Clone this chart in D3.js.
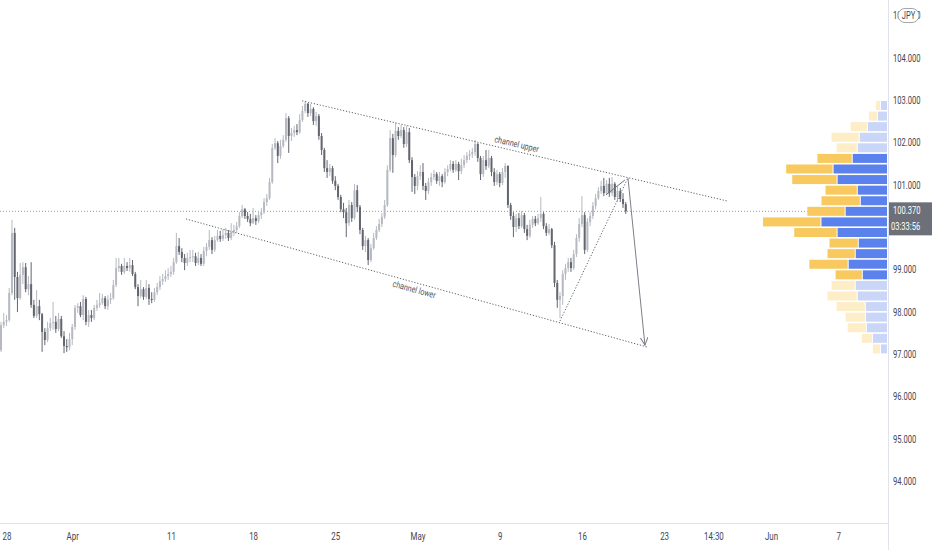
<!DOCTYPE html>
<html>
<head>
<meta charset="utf-8">
<script src="https://cdn.jsdelivr.net/npm/d3@7"></script>
<style>
  html, body { margin: 0; padding: 0; background: #fff; }
  svg { display: block; font-family: Roboto, "Noto Sans", sans-serif; }
</style>
</head>
<body>
<div id="vis"></div>
<script>
// 4H candles, [open, high, low, close]
const candles = [
  [97.09,97.76,97.05,97.68],[97.68,97.97,97.61,97.76],[97.76,97.92,97.66,97.80],[97.80,98.56,97.76,98.44],
  [98.44,100.17,98.39,99.86],[99.86,99.98,98.28,98.82],[98.82,98.94,97.99,98.32],[98.32,99.15,98.28,98.87],
  [98.87,99.17,98.65,99.05],[99.05,99.15,98.46,98.53],[98.53,98.84,98.39,98.65],[98.65,99.17,98.09,98.16],
  [98.16,98.28,97.85,97.90],[97.90,98.51,97.85,98.13],[98.13,98.28,97.80,97.94],[97.94,97.97,97.05,97.52],
  [97.52,97.61,97.21,97.33],[97.33,97.76,97.28,97.61],[97.61,97.85,97.54,97.73],[97.73,98.23,97.57,97.76],
  [97.76,97.90,97.50,97.59],[97.59,97.97,97.54,97.83],[97.83,97.90,97.38,97.42],[97.42,97.54,97.02,97.19],
  [97.19,97.35,97.05,97.16],[97.16,97.50,97.09,97.35],[97.35,97.71,97.21,97.64],[97.64,98.16,97.57,98.09],
  [98.09,98.20,97.97,98.13],[98.13,98.23,97.87,97.92],[97.92,98.39,97.80,98.30],[98.30,98.35,97.68,97.76],
  [97.76,98.04,97.64,97.92],[97.92,98.04,97.76,97.85],[97.85,98.16,97.80,98.09],[98.09,98.28,98.02,98.16],
  [98.16,98.44,98.09,98.20],[98.20,98.42,98.16,98.32],[98.32,98.37,98.06,98.13],[98.13,98.39,98.04,98.28],
  [98.28,98.44,98.18,98.32],[98.32,98.75,98.28,98.63],[98.63,99.27,98.58,99.03],[99.03,99.27,98.94,99.08],
  [99.08,99.13,98.87,98.94],[98.94,99.27,98.89,99.08],[99.08,99.17,98.96,99.03],[99.03,99.27,98.94,99.10],
  [99.10,99.22,98.84,98.89],[98.89,98.94,98.53,98.58],[98.58,98.65,98.13,98.37],[98.37,98.75,98.32,98.53],
  [98.53,98.58,98.28,98.35],[98.35,98.75,98.30,98.56],[98.56,98.65,98.16,98.30],[98.30,98.46,98.20,98.28],
  [98.28,98.56,98.23,98.46],[98.46,98.68,98.39,98.58],[98.58,98.84,98.51,98.72],[98.72,98.89,98.63,98.77],
  [98.77,98.98,98.70,98.84],[98.84,99.03,98.75,98.89],[98.89,99.08,98.82,98.94],[98.94,99.27,98.87,99.17],
  [99.17,99.86,99.13,99.55],[99.55,99.74,99.34,99.41],[99.41,99.50,99.17,99.27],[99.27,99.36,98.98,99.15],
  [99.15,99.39,99.08,99.27],[99.27,99.46,99.17,99.29],[99.29,99.46,99.17,99.31],[99.31,99.39,99.08,99.15],
  [99.15,99.41,99.10,99.27],[99.27,99.36,99.08,99.13],[99.13,99.53,99.08,99.43],[99.43,99.62,99.31,99.53],
  [99.53,99.93,99.46,99.69],[99.69,99.76,99.36,99.46],[99.46,99.79,99.41,99.69],[99.69,99.93,99.65,99.79],
  [99.79,99.91,99.65,99.72],[99.72,99.95,99.67,99.81],[99.81,99.98,99.72,99.86],[99.86,99.93,99.67,99.74],
  [99.74,100.09,99.69,99.88],[99.88,100.05,99.79,99.93],[99.93,100.12,99.86,100.02],[100.02,100.35,99.98,100.26],
  [100.26,100.52,100.21,100.42],[100.42,100.45,100.19,100.26],[100.26,100.35,100.12,100.19],[100.19,100.31,100.02,100.09],
  [100.09,100.45,100.07,100.21],[100.21,100.28,100.05,100.14],[100.14,100.35,100.09,100.28],[100.28,100.45,100.19,100.35],
  [100.35,100.68,100.31,100.59],[100.59,100.78,100.50,100.68],[100.68,101.16,100.64,101.06],[101.06,101.96,101.02,101.87],
  [101.87,102.10,101.82,101.98],[101.98,102.03,101.51,101.68],[101.68,102.06,101.61,101.91],[101.91,102.17,101.87,102.06],
  [102.06,102.69,102.01,102.57],[102.57,102.62,101.75,102.15],[102.15,102.34,102.03,102.22],[102.22,102.39,102.13,102.29],
  [102.29,102.43,102.17,102.24],[102.24,102.67,102.20,102.53],[102.53,102.86,102.48,102.74],[102.74,102.98,102.69,102.91],
  [102.91,102.93,102.60,102.69],[102.69,102.91,102.62,102.79],[102.79,102.83,102.41,102.50],[102.50,102.72,102.39,102.62],
  [102.62,102.67,102.06,102.15],[102.15,102.22,101.70,101.82],[101.82,101.87,101.30,101.39],[101.39,101.58,101.16,101.30],
  [101.30,101.49,101.20,101.39],[101.39,101.44,101.02,101.09],[101.09,101.20,100.87,100.97],[100.97,101.02,100.64,100.71],
  [100.71,100.76,100.35,100.42],[100.42,100.57,100.21,100.35],[100.35,100.45,99.76,100.09],[100.09,100.64,100.02,100.52],
  [100.52,100.59,100.12,100.21],[100.21,101.02,100.17,100.87],[100.87,100.99,100.35,100.47],[100.47,100.52,99.83,99.93],
  [99.93,99.98,99.46,99.55],[99.55,99.79,99.41,99.69],[99.69,99.74,99.10,99.22],[99.22,99.60,99.17,99.50],
  [99.50,99.86,99.46,99.74],[99.74,100.02,99.69,99.93],[99.93,100.19,99.88,100.07],[100.07,100.33,100.00,100.24],
  [100.24,100.64,100.19,100.52],[100.52,101.46,100.47,101.35],[101.35,102.29,101.30,102.10],[102.10,102.20,101.28,101.70],
  [101.70,102.46,101.65,102.27],[102.27,102.36,102.06,102.15],[102.15,102.41,102.10,102.29],[102.29,102.36,101.87,101.96],
  [101.96,102.39,101.89,102.24],[102.24,102.34,101.51,101.58],[101.58,101.65,100.83,101.18],[101.18,101.25,100.78,100.97],
  [100.97,101.32,100.87,101.20],[101.20,101.46,101.11,101.30],[101.30,101.51,100.87,100.97],[100.97,101.04,100.64,100.85],
  [100.85,101.16,100.78,101.06],[101.06,101.28,100.97,101.18],[101.18,101.35,101.11,101.25],[101.25,101.30,101.02,101.09],
  [101.09,101.30,100.97,101.20],[101.20,101.25,100.94,101.06],[101.06,101.39,101.02,101.30],[101.30,101.46,101.20,101.37],
  [101.37,101.58,101.32,101.49],[101.49,101.56,101.28,101.35],[101.35,101.58,101.30,101.49],[101.49,101.54,101.11,101.32],
  [101.32,101.61,101.25,101.46],[101.46,101.70,101.39,101.58],[101.58,101.77,101.51,101.68],[101.68,101.82,101.58,101.72],
  [101.72,101.87,101.63,101.77],[101.77,102.06,101.68,101.96],[101.96,101.98,101.54,101.63],[101.63,101.68,101.11,101.25],
  [101.25,101.68,101.18,101.58],[101.58,101.82,101.35,101.44],[101.44,101.82,101.39,101.63],[101.63,101.68,101.20,101.30],
  [101.30,101.39,100.97,101.06],[101.06,101.35,100.99,101.25],[101.25,101.30,100.94,101.04],[101.04,101.39,100.99,101.30],
  [101.30,101.51,101.16,101.44],[101.44,101.46,100.45,100.52],[100.52,100.57,100.17,100.26],[100.26,100.35,99.76,100.00],
  [100.00,100.31,99.88,100.21],[100.21,100.33,99.95,100.02],[100.02,100.38,99.98,100.28],[100.28,100.33,99.86,99.95],
  [99.95,100.05,99.69,99.79],[99.79,100.17,99.74,100.05],[100.05,100.26,99.98,100.19],[100.19,100.26,100.02,100.09],
  [100.09,100.31,100.05,100.21],[100.21,100.71,100.12,100.31],[100.31,100.35,99.95,100.02],[100.02,100.09,99.79,99.86],
  [99.86,100.07,99.81,99.95],[99.95,99.98,99.50,99.57],[99.57,99.65,98.58,98.68],[98.68,98.75,98.09,98.28],
  [98.28,98.46,97.85,98.37],[98.37,98.98,98.16,98.89],[98.89,99.13,98.75,99.03],[99.03,99.27,98.94,99.17],
  [99.17,99.27,98.94,99.03],[99.03,99.46,98.98,99.36],[99.36,99.83,99.29,99.74],[99.74,100.21,99.65,100.07],
  [100.07,100.73,100.00,100.28],[100.28,100.35,99.36,99.46],[99.46,100.21,99.41,100.12],[100.12,100.35,100.02,100.26],
  [100.26,100.59,100.19,100.50],[100.50,100.78,100.42,100.68],[100.68,100.94,100.64,100.85],[100.85,101.09,100.78,100.97],
  [100.97,101.16,100.73,100.80],[100.80,101.11,100.76,101.02],[101.02,101.16,100.71,100.80],[100.80,101.18,100.73,101.02],
  [101.02,101.06,100.64,100.71],[100.71,100.97,100.59,100.85],[100.85,100.92,100.59,100.66],[100.66,100.80,100.45,100.54],
  [100.54,100.59,100.31,100.37]
];

// time axis: candle index of each label
const timeTicks = [2, 26, 62, 92, 122, 152, 182, 212, 242, 260, 281, 305.5];
const timeLabels = ['28', 'Apr', '11', '18', '25', 'May', '9', '16', '23', '14:30', 'Jun', '7'];
// 100.000 sits under the last price badge, so it is not drawn
const priceTicks = [94, 95, 96, 97, 98, 99, 101, 102, 103, 104, 105];
const lastPrice = 100.37;
const countdown = '03:33:56';

// volume profile, rows of 0.25 from 103.00 down to 97.00
const profileTop = 103;
const profileStep = 0.25;
const profileUp = [6, 9, 19, 27, 29, 34, 53, 49, 29, 26, 41, 65, 49, 28, 31, 38, 24, 31, 29, 21, 21, 20, 14, 6];
const profileDown = [5, 9, 17, 28, 21, 35, 47, 45, 32, 39, 38, 58, 43, 29, 28, 39, 27, 24, 30, 29, 20, 19, 11, 8];
const valueArea = [5, 16];

// drawings, [candle index, price]
const channelUpper = [[109.9, 102.98], [265.3, 100.61]];
const channelLower = [[67.5, 100.19], [236.1, 97.16]];
const wedgeLine = [[204, 97.78], [228.8, 101.16]];
const wedgeTop = [[220.8, 100.76], [227.7, 101.11]];
const arrowLine = [[228.8, 101.16], [235, 97.21]];

const W = 932, H = 550;
const plotRight = 888, plotBottom = 523;
const upColor = '#b6b9c1', downColor = '#63666f';
const textColor = '#434651';

const svg = d3.select('#vis').append('svg')
  .attr('width', W)
  .attr('height', H)
  .attr('viewBox', '0 0 ' + W + ' ' + H);

const x = d3.scaleLinear().domain([0, 323.7]).range([1, plotRight]);
const y = d3.scaleLinear().domain([94, 103]).range([481, 100]);

// squeeze text horizontally, the screenshot is narrower than it is tall
function squeeze(sel, k) {
  sel.each(function() {
    const w = this.getComputedTextLength();
    d3.select(this).attr('textLength', w * k).attr('lengthAdjust', 'spacingAndGlyphs');
  });
}

// last price line
svg.append('line')
  .attr('x1', 0).attr('x2', plotRight)
  .attr('y1', y(lastPrice)).attr('y2', y(lastPrice))
  .attr('stroke', '#9598a1')
  .attr('stroke-dasharray', '1,2');

// candles
const bars = svg.append('g').selectAll('g')
  .data(candles)
  .join('g');

bars.append('line')
  .attr('x1', (d, i) => x(i)).attr('x2', (d, i) => x(i))
  .attr('y1', d => y(d[1])).attr('y2', d => y(d[2]))
  .attr('stroke', d => d[3] >= d[0] ? upColor : downColor)
  .attr('stroke-width', 1);

bars.append('rect')
  .attr('x', (d, i) => x(i) - 1)
  .attr('width', 2)
  .attr('y', d => y(Math.max(d[0], d[3])))
  .attr('height', d => Math.max(1, Math.abs(y(d[0]) - y(d[3]))))
  .attr('fill', d => d[3] >= d[0] ? upColor : downColor);

// drawings
const line = d3.line().x(d => x(d[0])).y(d => y(d[1]));

[channelUpper, channelLower, wedgeLine].forEach(pts => {
  svg.append('path')
    .attr('d', line(pts))
    .attr('fill', 'none')
    .attr('stroke', '#5d606b')
    .attr('stroke-width', 1)
    .attr('stroke-dasharray', '1.2,1.8');
});

svg.append('path')
  .attr('d', line(wedgeTop))
  .attr('fill', 'none')
  .attr('stroke', '#6f727c')
  .attr('stroke-width', 1);

svg.append('defs').append('marker')
  .attr('id', 'head')
  .attr('markerUnits', 'userSpaceOnUse')
  .attr('markerWidth', 10).attr('markerHeight', 10)
  .attr('refX', 8).attr('refY', 4)
  .attr('orient', 'auto')
  .append('path')
  .attr('d', 'M0,0 L8,4 L0,8')
  .attr('fill', 'none')
  .attr('stroke', '#7c7f88')
  .attr('stroke-width', 1);

svg.append('path')
  .attr('d', line(arrowLine))
  .attr('fill', 'none')
  .attr('stroke', '#7c7f88')
  .attr('stroke-width', 1)
  .attr('marker-end', 'url(#head)');

function channelLabel(pts, idx, text, dy) {
  const [[i0, p0], [i1, p1]] = pts;
  const t = (idx - i0) / (i1 - i0);
  const px = x(idx), py = y(p0 + t * (p1 - p0));
  const ang = Math.atan2(y(p1) - y(p0), x(i1) - x(i0)) * 180 / Math.PI;
  svg.append('text')
    .attr('transform', 'translate(' + px + ',' + py + ') rotate(' + ang + ')')
    .attr('dy', dy)
    .attr('text-anchor', 'middle')
    .attr('font-size', 9)
    .attr('fill', '#50535e')
    .text(text)
    .call(squeeze, 0.8);
}
channelLabel(channelUpper, 187.6, 'channel upper', -4);
channelLabel(channelLower, 151.5, 'channel lower', 10);

// volume profile
const vx = d3.scaleLinear().domain([0, 123]).range([0, 124]);
const rowH = y(profileTop - profileStep) - y(profileTop);
const rows = svg.append('g').selectAll('g')
  .data(profileUp.map((u, k) => ({ k: k, up: u, down: profileDown[k] })))
  .join('g');
const inVA = d => d.k >= valueArea[0] && d.k <= valueArea[1];

rows.append('rect')
  .attr('x', d => plotRight - 1 - vx(d.up))
  .attr('width', d => vx(d.up))
  .attr('y', d => y(profileTop - d.k * profileStep) + 1)
  .attr('height', rowH - 1.6)
  .attr('fill', d => inVA(d) ? '#5b81ec' : '#c9d6f8');

rows.append('rect')
  .attr('x', d => plotRight - 1 - vx(d.up) - vx(d.down))
  .attr('width', d => Math.max(0, vx(d.down) - 1))
  .attr('y', d => y(profileTop - d.k * profileStep) + 1)
  .attr('height', rowH - 1.6)
  .attr('fill', d => inVA(d) ? '#f7c95e' : '#fdeec8');

// panel borders
svg.append('line')
  .attr('x1', plotRight + 0.5).attr('x2', plotRight + 0.5)
  .attr('y1', 0).attr('y2', H)
  .attr('stroke', '#e0e3eb');
svg.append('line')
  .attr('x1', 0).attr('x2', plotRight)
  .attr('y1', plotBottom + 0.5).attr('y2', plotBottom + 0.5)
  .attr('stroke', '#e0e3eb');

// price axis
const yAxis = svg.append('g')
  .attr('transform', 'translate(' + plotRight + ',0)')
  .call(d3.axisRight(y).tickValues(priceTicks).tickSize(0).tickPadding(5).tickFormat(d3.format('.3f')));
yAxis.select('.domain').remove();
yAxis.selectAll('text')
  .attr('font-size', 11)
  .attr('font-family', 'Roboto, sans-serif')
  .attr('fill', textColor)
  .call(squeeze, 0.69);

// time axis
const xAxis = svg.append('g')
  .attr('transform', 'translate(0,' + plotBottom + ')')
  .call(d3.axisBottom(x).tickValues(timeTicks).tickSize(0).tickPadding(9)
    .tickFormat((d, i) => timeLabels[i]));
xAxis.select('.domain').remove();
xAxis.selectAll('text')
  .attr('font-size', 11)
  .attr('font-family', 'Roboto, sans-serif')
  .attr('fill', textColor)
  .call(squeeze, 0.72);

// last price badge
const by = y(lastPrice);
svg.append('rect')
  .attr('x', plotRight + 1).attr('y', by - 9)
  .attr('width', W - plotRight - 1).attr('height', 33)
  .attr('fill', '#6d7079');
svg.append('text')
  .attr('x', plotRight + 5).attr('y', by + 3)
  .attr('font-size', 10.5).attr('fill', '#fff')
  .text(d3.format('.3f')(lastPrice))
  .call(squeeze, 0.72);
svg.append('text')
  .attr('x', plotRight + 3).attr('y', by + 19)
  .attr('font-size', 10.5).attr('fill', '#fff')
  .text(countdown)
  .call(squeeze, 0.72);

// currency badge
svg.append('rect')
  .attr('x', 898).attr('y', 8.5)
  .attr('width', 21).attr('height', 14).attr('rx', 7)
  .attr('fill', '#fff')
  .attr('stroke', '#a3a6af');
svg.append('text')
  .attr('x', 908.5).attr('y', 19)
  .attr('text-anchor', 'middle')
  .attr('font-size', 10).attr('fill', textColor)
  .text('JPY')
  .call(squeeze, 0.75);
</script>
</body>
</html>
